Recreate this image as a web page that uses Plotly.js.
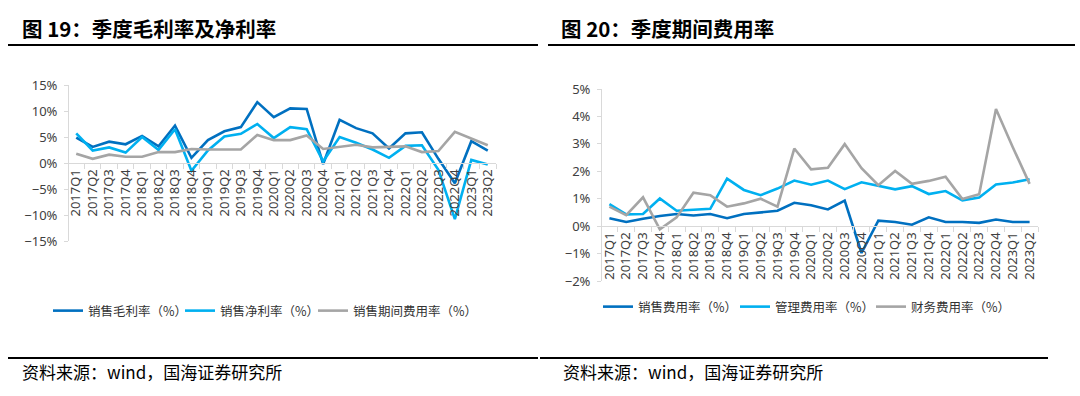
<!DOCTYPE html>
<html><head><meta charset="utf-8">
<script src="https://cdn.plot.ly/plotly-3.0.1.min.js"></script>
<style>html,body{margin:0;padding:0;background:#fff;}#chart{width:1080px;height:396px;}</style>
</head><body><div id="chart"></div>
<script>
const quarters = ['2017Q1','2017Q2','2017Q3','2017Q4','2018Q1','2018Q2','2018Q3','2018Q4',
  '2019Q1','2019Q2','2019Q3','2019Q4','2020Q1','2020Q2','2020Q3','2020Q4',
  '2021Q1','2021Q2','2021Q3','2021Q4','2022Q1','2022Q2','2022Q3','2022Q4','2023Q1','2023Q2'];
// chart 19
const grossMargin   = [4.9,3.1,4.1,3.6,5.2,3.2,7.2,1.0,4.4,6.1,6.9,11.7,8.8,10.5,10.4,-0.2,8.3,6.7,5.7,2.8,5.7,5.9,0.8,-3.9,4.2,2.4];
const netMargin     = [5.7,2.4,3.0,2.0,5.0,2.5,6.5,-1.5,2.4,5.1,5.6,7.5,4.8,6.9,6.5,0.3,5.0,3.9,2.6,1.0,3.3,3.4,-1.3,-10.8,0.6,-0.3];
const periodExpense = [1.8,0.8,1.6,1.2,1.2,2.1,2.1,2.7,2.6,2.6,2.6,5.4,4.4,4.4,5.3,2.7,3.1,3.5,3.0,3.1,3.2,2.1,2.3,6.0,4.7,3.4];
// chart 20
const sellingExpense = [0.29,0.15,0.27,0.37,0.44,0.39,0.44,0.29,0.44,0.51,0.56,0.85,0.76,0.61,0.93,-0.98,0.20,0.15,0.05,0.32,0.15,0.15,0.12,0.24,0.15,0.15];
const adminExpense   = [0.80,0.43,0.44,1.01,0.56,0.60,0.63,1.73,1.32,1.13,1.37,1.66,1.51,1.66,1.35,1.60,1.48,1.34,1.46,1.17,1.28,0.94,1.04,1.52,1.59,1.71];
const financeExpense = [0.71,0.40,1.05,-0.12,0.32,1.22,1.13,0.71,0.83,1.00,0.71,2.83,2.07,2.13,2.99,2.11,1.49,2.01,1.54,1.65,1.80,0.99,1.16,4.27,2.88,1.54];

const names1 = ['销售毛利率（%）','销售净利率（%）','销售期间费用率（%）'];
const names2 = ['销售费用率（%）','管理费用率（%）','财务费用率（%）'];
const colors = ['#0070C0','#00B0F0','#A5A5A5'];

const W = 1080, H = 396;
const px = x => x / W, py = y => 1 - y / H;
const FONT = '"Noto Sans", "Noto Sans CJK SC", sans-serif';
const CJK = '"Noto Sans CJK SC", sans-serif';

const left = {x0:68, x1:496, top:85, bottom:241, r:[-15,15]};
const right = {x0:601, x1:1038, top:89, bottom:281, r:[-2,5]};
function zeroPos(p){ const frac = (0 - p.r[0])/(p.r[1]-p.r[0]); return py(p.bottom) + frac*(py(p.top)-py(p.bottom)); }

function mk(y, name, i, xa, ya, lg){
  return {x: quarters, y: y, name: name, type:'scatter', mode:'lines', xaxis:xa, yaxis:ya, legend:lg,
    line:{color:colors[i], width:2.6}, hoverinfo:'skip'};
}
const data = [
  mk(grossMargin, names1[0], 0, 'x','y','legend'),
  mk(netMargin, names1[1], 1, 'x','y','legend2'),
  mk(periodExpense, names1[2], 2, 'x','y','legend3'),
  mk(sellingExpense, names2[0], 0, 'x2','y2','legend4'),
  mk(adminExpense, names2[1], 1, 'x2','y2','legend5'),
  mk(financeExpense, names2[2], 2, 'x2','y2','legend6')
];

function xax(p){
  return {domain:[px(p.x0), px(p.x1)], anchor:'free', position: zeroPos(p), type:'category',
    range:[-0.5, quarters.length-0.5], tickangle:-90, showline:true, linecolor:'#d9d9d9', linewidth:1,
    ticks:'outside', tickson:'boundaries', ticklen:5, tickcolor:'#d9d9d9', showgrid:false, zeroline:false,
    tickfont:{family:FONT, size:13, color:'#404040'}, fixedrange:true};
}
function yax(p, dt){
  return {domain:[py(p.bottom), py(p.top)], range:p.r, dtick:dt, ticksuffix:'%', showline:true,
    linecolor:'#d9d9d9', linewidth:1, ticks:'outside', ticklen:4, tickcolor:'#d9d9d9', showgrid:false,
    zeroline:false, tickfont:{family:FONT, size:13, color:'#404040'}, fixedrange:true, ticklabelstandoff:4,
    anchor:'free', position:px(p.x0)};
}

function ann(text, x, y, size, bold, fam){
  return {text: bold ? '<b>'+text+'</b>' : text, x:px(x), y:py(y), xref:'paper', yref:'paper',
    xanchor:'left', yanchor:'middle', showarrow:false, font:{family:fam, size:size, color:'#000'}};
}
function hline(x0,x1,y,w){
  return {type:'line', xref:'paper', yref:'paper', x0:px(x0), x1:px(x1), y0:py(y), y1:py(y), line:{color:'#000', width:w}};
}
function leg(x, y){
  return {orientation:'h', xanchor:'left', yanchor:'middle', font:{family:CJK, size:12.5, color:'#333'},
    itemwidth:30, bgcolor:'rgba(0,0,0,0)', x:px(x-5), y:py(y)};
}

const layout = {
  width:W, height:H, margin:{l:0,r:0,t:0,b:0}, paper_bgcolor:'#fff', plot_bgcolor:'rgba(0,0,0,0)',
  showlegend:true,
  xaxis: xax(left), yaxis: yax(left,5), xaxis2: xax(right), yaxis2: yax(right,1),
  legend: leg(53,311), legend2: leg(185,311), legend3: leg(318,311),
  legend4: leg(603,307), legend5: leg(740,307), legend6: leg(876,307),
  annotations:[
    ann('图 19：季度毛利率及净利率', 20, 28, 20.5, true, CJK),
    ann('图 20：季度期间费用率', 559, 28, 20.5, true, CJK),
    ann('资料来源：wind，国海证券研究所', 20, 371, 17, false, CJK),
    ann('资料来源：wind，国海证券研究所', 561, 371, 17, false, CJK)
  ],
  shapes:[ hline(8,538,45,2), hline(548,1075,45,2), hline(8,538,358,2), hline(540,1048,358,2) ]
};
Plotly.newPlot('chart', data, layout, {displayModeBar:false, staticPlot:true});
</script></body></html>
